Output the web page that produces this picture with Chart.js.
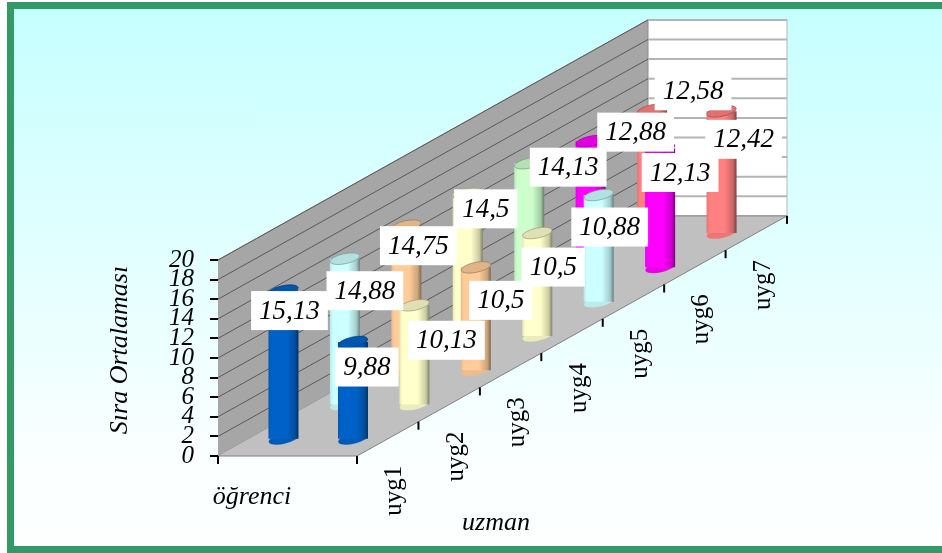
<!DOCTYPE html>
<html>
<head>
<meta charset="utf-8">
<script src="https://cdn.jsdelivr.net/npm/chart.js@4"></script>
<style>
html, body { margin: 0; padding: 0; background: #fff; overflow: hidden; }
#frame {
    position: absolute; left: 7px; top: 2px; width: 950px; height: 537px;
    border: 7px solid #339966;
    background: linear-gradient(to bottom, #c6ffff 0%, #fbffff 85%, #fdffff 100%);
}
#grafico { position: absolute; left: 0; top: 0; }
</style>
</head>
<body>
<div id="frame"></div>
<canvas id="grafico" width="942" height="553"></canvas>
<script>
const categorias = ["uyg1", "uyg2", "uyg3", "uyg4", "uyg5", "uyg6", "uyg7"];
const series = ["öğrenci", "uzman"];
const ogrenci = [15.13, 14.88, 14.75, 14.5, 14.13, 12.88, 12.58];
const uzman = [9.88, 10.13, 10.5, 10.5, 10.88, 12.13, 12.42];
const etiketOgrenci = ["15,13", "14,88", "14,75", "14,5", "14,13", "12,88", "12,58"];
const etiketUzman = ["9,88", "10,13", "10,5", "10,5", "10,88", "12,13", "12,42"];
const yTicks = [0, 2, 4, 6, 8, 10, 12, 14, 16, 18, 20];

const renkOgrenci = ["#0062c8", "#ccffff", "#ffcc99", "#ffffcc", "#ccffcc", "#ff00ff", "#ff8080"];
const renkUzman = ["#0062c8", "#ffffcc", "#ffcc99", "#ffffcc", "#ccffff", "#ff00ff", "#ff8080"];

// label box shift from the top of each cylinder, px
const kaymaOgrenci = [[6, 20], [20, 32], [12, 20], [18, 15], [39, 4], [45, -9], [41, -19]];
const kaymaUzman = [[14, 25], [32, 35], [25, 33], [16, 34], [11, 32], [20, 24], [22, 28]];

// oblique projection: x scale is in category steps, y scale in value units
const genislik = 2.263;   // floor width in category steps
const egim = 3.5;         // value units of rise per category step
const derinlik = categorias.length;
const yMax = yTicks[yTicks.length - 1];

function nokta(d, a, h) {
    return { x: d + a * genislik, y: d * egim + h };
}

function koyu(hex, k) {
    const n = parseInt(hex.slice(1), 16);
    const r = Math.round((n >> 16) * k), g = Math.round(((n >> 8) & 255) * k), b = Math.round((n & 255) * k);
    return `rgb(${r},${g},${b})`;
}

function polygon(pts, fillColor, borderColor, order) {
    return {
        type: "line", data: pts, fill: "shape", backgroundColor: fillColor, borderColor: borderColor,
        borderWidth: 1, pointRadius: 0, tension: 0, order: order
    };
}

function cizgi(pts, color, width, order) {
    return {
        type: "line", data: pts, fill: false, borderColor: color, borderWidth: width,
        pointRadius: 0, tension: 0, order: order
    };
}

function silindir(values, a, renkler, etiketler, kayma, order, ad) {
    return {
        type: "bar", label: ad, grouped: false, order: order,
        data: values.map((v, i) => {
            const base = nokta(i + 0.5, a, 0);
            return { x: base.x, y: [base.y, base.y + v] };
        }),
        maxBarThickness: 30, barPercentage: 8, categoryPercentage: 1,
        backgroundColor: ctx => {
            const c = renkler[ctx.dataIndex] || renkler[0];
            const d = ctx.dataset.data[ctx.dataIndex];
            const xp = d ? ctx.chart.scales.x.getPixelForValue(d.x) : NaN;
            if (!isFinite(xp)) return c;
            const g = ctx.chart.ctx.createLinearGradient(xp - 15, 0, xp + 15, 0);
            g.addColorStop(0, koyu(c, 0.9));
            g.addColorStop(0.1, c);
            g.addColorStop(0.6, c);
            g.addColorStop(0.88, koyu(c, 0.8));
            g.addColorStop(1, koyu(c, 0.5));
            return g;
        },
        renkler, etiketler, kayma
    };
}

const datasets = [
    polygon([nokta(0, 0, 0), nokta(derinlik, 0, 0), nokta(derinlik, 0, yMax), nokta(0, 0, yMax)], "#a6a6a6", "#8c8c8c", 20),
    polygon([nokta(derinlik, 0, 0), nokta(derinlik, 1, 0), nokta(derinlik, 1, yMax), nokta(derinlik, 0, yMax)], "#ffffff", "#b4b4b4", 20),
    polygon([nokta(0, 0, 0), nokta(0, 1, 0), nokta(derinlik, 1, 0), nokta(derinlik, 0, 0)], "#c0c0c0", "#808080", 15)
];
yTicks.slice(1).forEach(t => {
    datasets.push(cizgi([nokta(0, 0, t), nokta(derinlik, 0, t)], "#595959", 1, 18));
    datasets.push(cizgi([nokta(derinlik, 0, t), nokta(derinlik, 1, t)], "#b4b4b4", 2, 18));
});
datasets.push(silindir(ogrenci, 0.25, renkOgrenci, etiketOgrenci, kaymaOgrenci, 2, series[0]));
datasets.push(silindir(uzman, 0.75, renkUzman, etiketUzman, kaymaUzman, 1, series[1]));

function elips(ctx, x, y, fill, stroke) {
    ctx.beginPath();
    ctx.ellipse(x, y, 15, 5, -12 * Math.PI / 180, 0, Math.PI * 2);
    ctx.fillStyle = fill;
    ctx.fill();
    if (stroke) {
        ctx.strokeStyle = stroke;
        ctx.lineWidth = 0.7;
        ctx.stroke();
    }
}

const silindirPlugin = {
    id: "silindir",
    beforeDatasetDraw(chart, args) {
        const ds = chart.data.datasets[args.index];
        if (!ds.renkler) return;
        const ctx = chart.ctx;
        args.meta.data.forEach((el, i) => {
            elips(ctx, el.x, el.base, koyu(ds.renkler[i], 0.92));
        });
    },
    afterDatasetDraw(chart, args) {
        const ds = chart.data.datasets[args.index];
        if (!ds.renkler) return;
        const ctx = chart.ctx;
        args.meta.data.forEach((el, i) => {
            elips(ctx, el.x, el.y, koyu(ds.renkler[i], 0.88), koyu(ds.renkler[i], 0.6));
        });
    },
    afterDatasetsDraw(chart) {
        const ctx = chart.ctx;
        const sx = chart.scales.x, sy = chart.scales.y;
        ctx.save();

        // ticks along the front edge of the floor
        ctx.strokeStyle = "#000";
        ctx.lineWidth = 2;
        for (let d = 0; d <= derinlik; d++) {
            const p = nokta(d, 1, 0);
            const xp = sx.getPixelForValue(p.x), yp = sy.getPixelForValue(p.y);
            ctx.beginPath();
            ctx.moveTo(xp, yp);
            ctx.lineTo(xp, yp + 8);
            ctx.stroke();
        }
        const p0 = nokta(0, 0, 0);
        ctx.beginPath();
        ctx.moveTo(sx.getPixelForValue(p0.x), sy.getPixelForValue(p0.y));
        ctx.lineTo(sx.getPixelForValue(p0.x), sy.getPixelForValue(p0.y) + 8);
        ctx.stroke();

        // category labels
        ctx.fillStyle = "#000";
        ctx.textAlign = "center";
        ctx.textBaseline = "middle";
        ctx.font = "25px 'Liberation Serif'";
        categorias.forEach((c, i) => {
            const p = nokta(i + 0.5, 1, 0);
            ctx.save();
            ctx.translate(sx.getPixelForValue(p.x) + 7, sy.getPixelForValue(p.y) + 52);
            ctx.rotate(-Math.PI / 2);
            ctx.fillText(c, 0, 0);
            ctx.restore();
        });

        // axis titles
        ctx.font = "italic 26px 'Liberation Serif'";
        ctx.fillText(series[0], 252, 497);
        ctx.fillText(series[1], 496, 523);
        ctx.save();
        ctx.translate(120, 350);
        ctx.rotate(-Math.PI / 2);
        ctx.fillText("Sıra Ortalaması", 0, 0);
        ctx.restore();

        // value labels on white boxes
        ctx.font = "italic 27px 'Liberation Serif'";
        chart.getSortedVisibleDatasetMetas().forEach(meta => {
            const ds = chart.data.datasets[meta.index];
            if (!ds.renkler) return;
            meta.data.forEach((el, i) => {
                const t = ds.etiketler[i];
                const cx = el.x + ds.kayma[i][0], cy = el.y + ds.kayma[i][1];
                const w = ctx.measureText(t).width + 16;
                ctx.fillStyle = "#fff";
                ctx.fillRect(cx - w / 2, cy - 19.5, w, 39);
                ctx.fillStyle = "#000";
                ctx.fillText(t, cx, cy + 1);
            });
        });
        ctx.restore();
    }
};

new Chart(document.getElementById("grafico"), {
    data: { datasets },
    plugins: [silindirPlugin],
    options: {
        responsive: false,
        animation: false,
        layout: { padding: 0, autoPadding: false },
        plugins: { legend: { display: false }, tooltip: { enabled: false } },
        scales: {
            x: { type: "linear", display: false, offset: false, min: 0, max: 724 / 61.43 },
            y: {
                type: "linear", offset: false, min: -97 / 9.8, max: 456 / 9.8,
                afterFit: scale => {
                    scale.width = 218;
                    scale.paddingTop = 0;
                    scale.paddingBottom = 0;
                },
                afterBuildTicks: scale => { scale.ticks = yTicks.map(v => ({ value: v })); },
                border: { display: false },
                grid: { offset: false, drawOnChartArea: false, color: "#000", lineWidth: 2, tickLength: 8 },
                ticks: {
                    color: "#000", padding: 16, autoSkip: false,
                    font: { family: "'Liberation Serif'", style: "italic", size: 25 },
                    callback: v => String(v)
                }
            }
        }
    }
});
</script>
</body>
</html>
